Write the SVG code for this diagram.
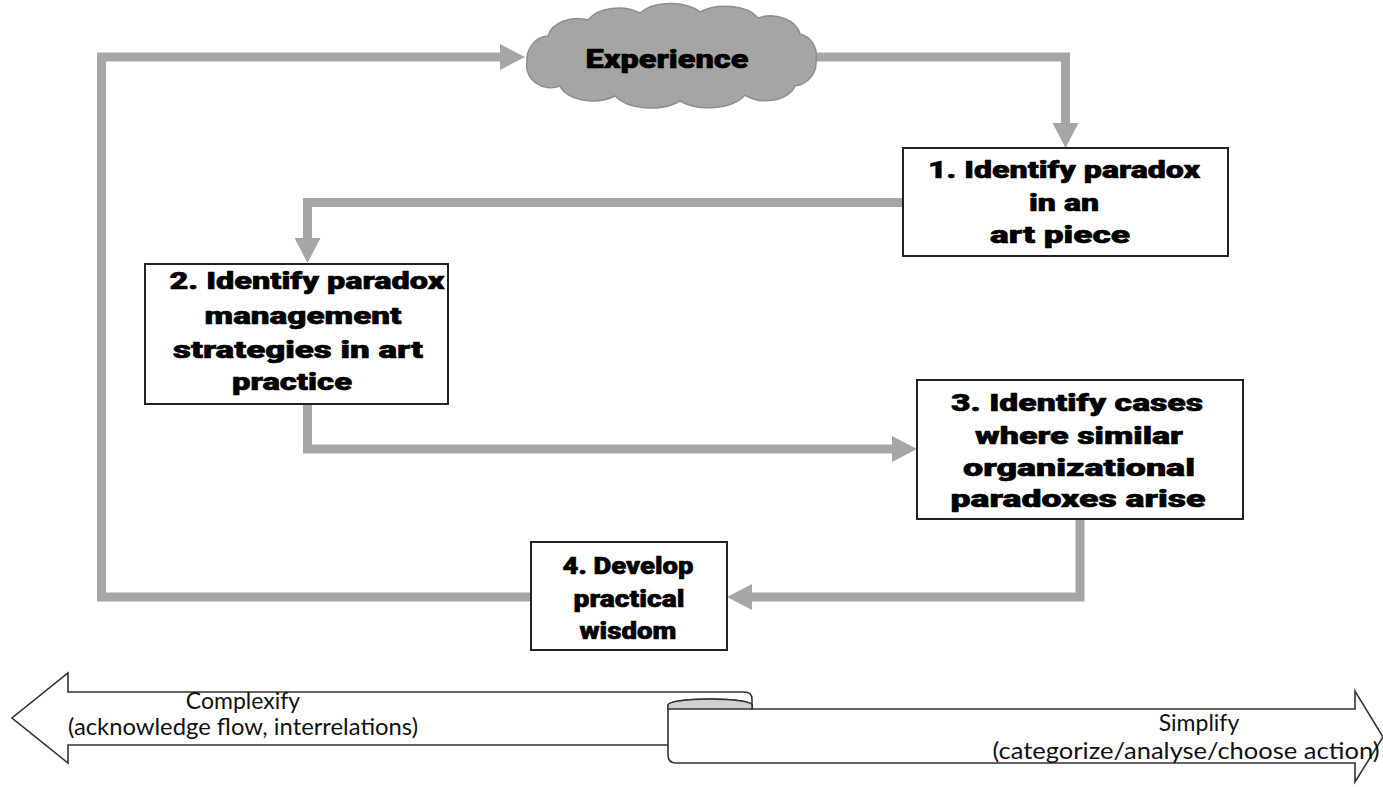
<svg xmlns="http://www.w3.org/2000/svg" width="1383" height="787" viewBox="0 0 1383 787">
<style>
.box{fill:#fff;stroke:#222;stroke-width:2}
.bt{font-family:"Arial Black","Roboto","Inter","Liberation Sans",sans-serif;font-weight:900;font-size:24px;fill:#000;stroke:#000;stroke-width:0.6;stroke-linejoin:round;text-anchor:middle}
.conn{fill:none;stroke:#a6a6a6;stroke-width:9;stroke-linejoin:miter}
.rib{fill:#fff;stroke:#333;stroke-width:1.6;stroke-linejoin:miter}
.lt{font-family:"Lato","Liberation Sans",sans-serif;font-size:23px;fill:#111;text-anchor:middle}
</style>
<defs>
<marker id="ah" markerUnits="userSpaceOnUse" markerWidth="26" markerHeight="28" refX="0" refY="13" orient="auto" viewBox="0 0 26 26">
<path d="M0,0 L25,13 L0,26 Z" fill="#a6a6a6"/>
</marker>
</defs>
<rect width="1383" height="787" fill="#fff"/>
<g id="connectors">
<path class="conn" d="M812 57 H1065.5 V123" marker-end="url(#ah)"/>
<path class="conn" d="M903 202.5 H307.5 V238" marker-end="url(#ah)"/>
<path class="conn" d="M307.5 404 V449 H892" marker-end="url(#ah)"/>
<path class="conn" d="M1080 519 V597 H752" marker-end="url(#ah)"/>
<path class="conn" d="M530 597 H101.5 V57 H500" marker-end="url(#ah)"/>
</g>
<g id="experience">
<path d="M527 62 A22 24 0 0 1 548 36 A30 22 0 0 1 588 20 A34 22 0 0 1 640 13 A36 20 0 0 1 700 12 A36 20 0 0 1 758 18 A30 22 0 0 1 800 34 A22 22 0 0 1 816 60 A24 24 0 0 1 795 86 A30 20 0 0 1 745 95 A40 22 0 0 1 680 101 A40 22 0 0 1 615 96 A34 20 0 0 1 560 86 A24 22 0 0 1 527 62 Z" fill="#a5a5a5" stroke="#8e8e8e" stroke-width="1.5"/>
<text class="bt" x="667" y="68" style="font-size:26px" textLength="163" lengthAdjust="spacingAndGlyphs">Experience</text>
</g>
<g id="step1">
<rect class="box" x="903" y="148" width="325" height="108"/>
<text class="bt" x="1064" y="178" textLength="272" lengthAdjust="spacingAndGlyphs">1. Identify paradox</text>
<text class="bt" x="1064" y="211" textLength="70" lengthAdjust="spacingAndGlyphs">in an</text>
<text class="bt" x="1060" y="243" textLength="140" lengthAdjust="spacingAndGlyphs">art piece</text>
</g>
<g id="step2">
<rect class="box" x="145" y="264" width="303" height="140"/>
<text class="bt" x="307" y="289" textLength="275" lengthAdjust="spacingAndGlyphs">2. Identify paradox</text>
<text class="bt" x="303" y="324" textLength="197" lengthAdjust="spacingAndGlyphs">management</text>
<text class="bt" x="298" y="358" textLength="250" lengthAdjust="spacingAndGlyphs">strategies in art</text>
<text class="bt" x="292" y="390" textLength="120" lengthAdjust="spacingAndGlyphs">practice</text>
</g>
<g id="step3">
<rect class="box" x="917" y="380" width="326" height="139"/>
<text class="bt" x="1077" y="411" textLength="252" lengthAdjust="spacingAndGlyphs">3. Identify cases</text>
<text class="bt" x="1079" y="444" textLength="208" lengthAdjust="spacingAndGlyphs">where similar</text>
<text class="bt" x="1079" y="476" textLength="232" lengthAdjust="spacingAndGlyphs">organizational</text>
<text class="bt" x="1078" y="507" textLength="255" lengthAdjust="spacingAndGlyphs">paradoxes arise</text>
</g>
<g id="step4">
<rect class="box" x="531" y="542" width="196" height="108"/>
<text class="bt" x="628" y="574" textLength="131" lengthAdjust="spacingAndGlyphs">4. Develop</text>
<text class="bt" x="629" y="607" textLength="111" lengthAdjust="spacingAndGlyphs">practical</text>
<text class="bt" x="628" y="639" textLength="97" lengthAdjust="spacingAndGlyphs">wisdom</text>
</g>
<g id="complexify">
<path class="rib" d="M752 745 H68 V763 L12 718 L68 673 V692 H744 Q752 692 752 699 V745 Z"/>
<text class="lt" x="243" y="709">Complexify</text>
<text class="lt" x="243" y="735" textLength="350" lengthAdjust="spacingAndGlyphs">(acknowledge flow, interrelations)</text>
</g>
<g id="simplify">
<path class="rib" d="M752 709 H1355 V691 L1383 737 L1355 782 V763 H676 Q668 763 668 755 V705 A42 6 0 0 1 752 705 Z"/>
<path d="M668 709 V705 A42 6 0 0 1 752 705 V709 Z" fill="#d0d0d0" stroke="#333" stroke-width="1.4"/>
<text class="lt" x="1199" y="731">Simplify</text>
<text class="lt" x="1186" y="759" textLength="387" lengthAdjust="spacingAndGlyphs">(categorize/analyse/choose action)</text>
</g>
</svg>
